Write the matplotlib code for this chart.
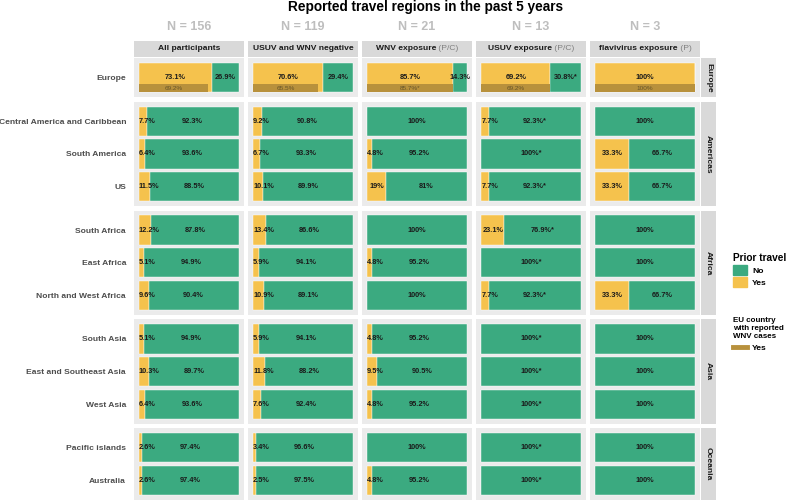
import matplotlib
matplotlib.use("Agg")
import matplotlib.pyplot as plt
from matplotlib.patches import Patch
from matplotlib.lines import Line2D
from matplotlib.transforms import offset_copy

plt.rcParams['font.family'] = ['Liberation Sans', 'DejaVu Sans']

# columns of the facet grid
groups = ["All participants", "USUV and WNV negative", "WNV exposure", "USUV exposure", "flavivirus exposure"]
group_suffix = ["", "", " (P/C)", " (P/C)", " (P)"]
n_counts = [156, 119, 21, 13, 3]

# rows of the facet grid
continents = ["Europe", "Americas", "Africa", "Asia", "Oceania"]
regions = [
    ["Europe"],
    ["Central America and Caribbean", "South America", "US"],
    ["South Africa", "East Africa", "North and West Africa"],
    ["South Asia", "East and Southeast Asia", "West Asia"],
    ["Pacific islands", "Australia"],
]

# % reporting travel (Yes), regions in the order above
yes_all = [73.1, 7.7, 6.4, 11.5, 12.2, 5.1, 9.6, 5.1, 10.3, 6.4, 2.6, 2.6]
yes_neg = [70.6, 9.2, 6.7, 10.1, 13.4, 5.9, 10.9, 5.9, 11.8, 7.6, 3.4, 2.5]
yes_wnv = [85.7, 0, 4.8, 19, 0, 4.8, 0, 4.8, 9.5, 4.8, 0, 4.8]
yes_usuv = [69.2, 7.7, 0, 7.7, 23.1, 0, 7.7, 0, 0, 0, 0, 0]
yes_flavi = [100, 0, 33.3, 33.3, 0, 0, 33.3, 0, 0, 0, 0, 0]
yes_values = [yes_all, yes_neg, yes_wnv, yes_usuv, yes_flavi]

# Europe only: % travelled to an EU country with reported WNV cases
eu_wnv = [69.2, 65.5, 85.7, 69.2, 100]

# asterisk flags
no_star = [False, False, False, True, False]
eu_star = [False, False, True, False, False]

green = "#3BAA80"
yellow = "#F5C24D"
gold = "#B8913C"
panel_bg = "#EBEBEB"
strip_bg = "#D9D9D9"
txt = "#1A1A1A"


def fmt(v):
    return f"{v:g}%"


fig = plt.figure(figsize=(7.88, 5.01), dpi=100)
gs = fig.add_gridspec(5, 5, left=134/788, right=700/788, top=1-58/501, bottom=1-500/501,
                      height_ratios=[1.2, 3.2, 3.2, 3.2, 2.2], wspace=0.042, hspace=0.053)

axes = [[None]*5 for _ in range(5)]
for c in range(5):
    k = 0
    for r in range(5):
        ax = fig.add_subplot(gs[r, c])
        axes[r][c] = ax
        names = regions[r]
        n = len(names)
        yes = yes_values[c][k:k+n]
        k += n
        no = [100 - v for v in yes]
        ys = list(range(n))
        ax.barh(ys, yes, height=0.9, color=yellow, edgecolor="white", linewidth=0.3)
        ax.barh(ys, no, left=yes, height=0.9, color=green, edgecolor="white", linewidth=0.3)
        for y, a, b in zip(ys, yes, no):
            if a > 0:
                if a < 15:
                    ax.text(0, y, fmt(a), ha="left", va="center", fontsize=5.3,
                            fontweight="bold", color=txt)
                else:
                    ax.text(a/2, y, fmt(a), ha="center", va="center", fontsize=5.3,
                            fontweight="bold", color=txt)
            if b > 0:
                lab = fmt(b) + ("*" if no_star[c] else "")
                ax.text(a + b/2, y, lab, ha="center", va="center", fontsize=5.3,
                        fontweight="bold", color=txt, clip_on=False)
        if r == 0:
            ax.barh(0.325, eu_wnv[c], height=0.25, color=gold)
            ax.text(eu_wnv[c]/2, 0.34, fmt(eu_wnv[c]) + ("*" if eu_star[c] else ""),
                    ha="center", va="center", fontsize=4.6, color="#66552A")
        ax.set_facecolor(panel_bg)
        ax.set_xlim(-5, 105)
        ax.set_ylim(n - 1 + 0.6, -0.6)
        ax.set_xticks([])
        for s in ax.spines.values():
            s.set_visible(False)
        if c == 0:
            ax.set_yticks(ys)
            ax.set_yticklabels(names, fontsize=6.1, fontweight="bold", color="#4D4D4D")
            ax.tick_params(axis="y", length=0, pad=5.7)
        else:
            ax.set_yticks([])

renderer = fig.canvas.get_renderer()

# column header strips and N counts
for c in range(5):
    p = axes[0][c].get_position()
    sax = fig.add_axes([p.x0, p.y1 + 1/501, p.width, 16/501])
    sax.set_facecolor(strip_bg)
    sax.set_xticks([]); sax.set_yticks([])
    for s in sax.spines.values():
        s.set_visible(False)
    t1 = sax.text(0, 0, groups[c], fontsize=6.1, fontweight="bold", color=txt)
    t2 = sax.text(0, 0, group_suffix[c], fontsize=6.1, color="#7F7F7F")
    w1 = t1.get_window_extent(renderer).width
    w2 = t2.get_window_extent(renderer).width if group_suffix[c] else 0
    start = -(w1 + w2) / 2
    t1.set_position((0.5, 0.5))
    t1.set_transform(offset_copy(sax.transAxes, fig=fig, x=start, y=0, units="dots"))
    t1.set_va("center"); t1.set_ha("left")
    t2.set_position((0.5, 0.5))
    t2.set_transform(offset_copy(sax.transAxes, fig=fig, x=start + w1, y=0, units="dots"))
    t2.set_va("center"); t2.set_ha("left")
    fig.text(p.x0 + p.width/2, 1 - 27/501, f"N = {n_counts[c]}", ha="center", va="center",
             fontsize=9, fontweight="bold", color="#BEBEBE")

# row strips on the right
for r in range(5):
    p = axes[r][4].get_position()
    sax = fig.add_axes([p.x1 + 1/788, p.y0, 15/788, p.height])
    sax.set_facecolor(strip_bg)
    sax.set_xticks([]); sax.set_yticks([])
    for s in sax.spines.values():
        s.set_visible(False)
    sax.text(0.5, 0.5, continents[r], rotation=-90, ha="center", va="center",
             fontsize=6.1, fontweight="bold", color=txt, transform=sax.transAxes)

fig.text(425/788, 1 - 7/501, "Reported travel regions in the past 5 years", ha="center",
         va="center", fontsize=9.8, fontweight="bold", color="black")

# legends
leg1 = fig.legend(handles=[Patch(color=green, label="No"), Patch(color=yellow, label="Yes")],
                  title="Prior travel", loc="upper left", bbox_to_anchor=(733/788, 1 - 253/501),
                  frameon=False, borderpad=0, borderaxespad=0, handlelength=1.65, handleheight=1.5,
                  labelspacing=0.2, handletextpad=0.6, alignment="left",
                  prop={"size": 6.1, "weight": "bold"},
                  title_fontproperties={"size": 7.3, "weight": "bold"})
leg2 = fig.legend(handles=[Line2D([], [], color=gold, lw=3.5, label="Yes")],
                  title="EU country\nwith reported\nWNV cases", loc="upper left",
                  bbox_to_anchor=(733/788, 1 - 317/501), frameon=False, borderpad=0,
                  borderaxespad=0, handlelength=1.65, handletextpad=0.6, alignment="left",
                  prop={"size": 6.1, "weight": "bold"},
                  title_fontproperties={"size": 5.8, "weight": "bold"})

fig.savefig("out.png", dpi=100)
